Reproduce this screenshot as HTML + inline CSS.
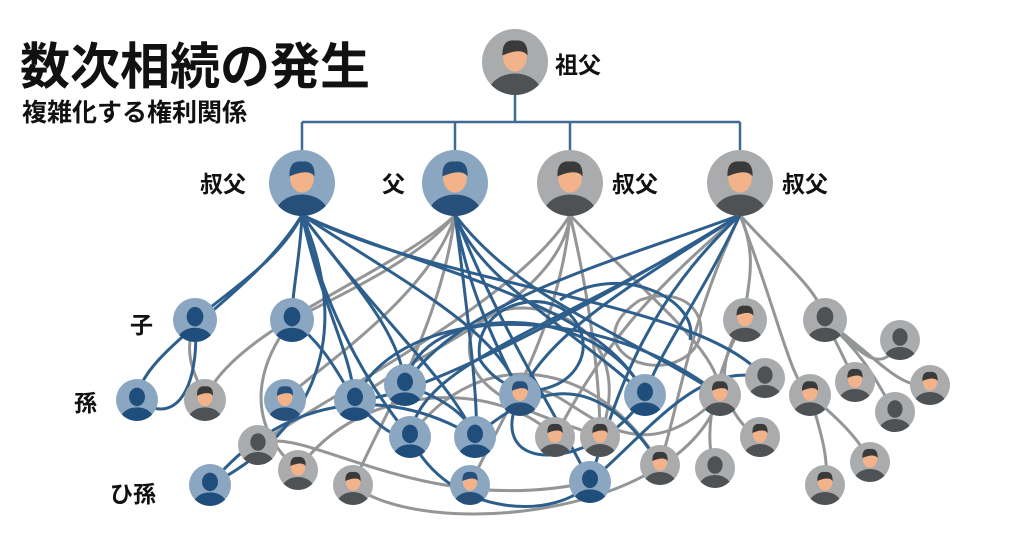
<!DOCTYPE html>
<html><head><meta charset="utf-8"><style>
body{margin:0;background:#fff;width:1024px;height:559px;overflow:hidden;font-family:"Liberation Sans","Noto Sans CJK JP",sans-serif}
svg{position:absolute;left:0;top:0}
.t{font-family:"Liberation Sans","Noto Sans CJK JP",sans-serif;font-weight:bold;fill:#111}
</style></head><body>
<svg width="1024" height="559" viewBox="0 0 1024 559">
<defs>
<clipPath id="c"><circle r="1"/></clipPath>
<symbol id="pb" viewBox="-1 -1 2 2" overflow="visible">
<circle r="1" fill="#8aa6c1"/><g clip-path="url(#c)"><ellipse cx="0" cy="0.95" rx="0.8" ry="0.6" fill="#1f4d7c"/><ellipse cx="0" cy="-0.15" rx="0.38" ry="0.44" fill="#1f4d7c"/></g></symbol>
<symbol id="pg" viewBox="-1 -1 2 2" overflow="visible">
<circle r="1" fill="#a9abad"/><g clip-path="url(#c)"><ellipse cx="0" cy="0.95" rx="0.8" ry="0.6" fill="#4f5254"/><ellipse cx="0" cy="-0.15" rx="0.38" ry="0.44" fill="#4f5254"/></g></symbol>
<symbol id="fb" viewBox="-1 -1 2 2" overflow="visible">
<circle r="1" fill="#8aa6c1"/><g clip-path="url(#c)"><ellipse cx="0" cy="0.95" rx="0.8" ry="0.6" fill="#264f7a"/><ellipse cx="0" cy="-0.15" rx="0.36" ry="0.44" fill="#f2b38a"/><path d="M-0.38,-0.2 Q-0.4,-0.7 0,-0.65 Q0.4,-0.7 0.38,-0.2 Q0.2,-0.45 -0.38,-0.2Z" fill="#264f7a"/></g></symbol>
<symbol id="fg" viewBox="-1 -1 2 2" overflow="visible">
<circle r="1" fill="#a9abad"/><g clip-path="url(#c)"><ellipse cx="0" cy="0.95" rx="0.8" ry="0.6" fill="#4f5254"/><ellipse cx="0" cy="-0.15" rx="0.36" ry="0.44" fill="#f2b38a"/><path d="M-0.38,-0.2 Q-0.4,-0.7 0,-0.65 Q0.4,-0.7 0.38,-0.2 Q0.2,-0.45 -0.38,-0.2Z" fill="#3a3a3a"/></g></symbol>
</defs>
<text x="20" y="84" class="t" font-size="50">数次相続の発生</text>
<text x="22" y="121" class="t" font-size="25">複雑化する権利関係</text>
<text x="555" y="73" class="t" font-size="23">祖父</text>
<text x="200" y="192" class="t" font-size="23">叔父</text>
<text x="382" y="192" class="t" font-size="23">父</text>
<text x="612" y="192" class="t" font-size="23">叔父</text>
<text x="782" y="192" class="t" font-size="23">叔父</text>
<text x="130" y="333" class="t" font-size="23">子</text>
<text x="74" y="411" class="t" font-size="23">孫</text>
<text x="110" y="502" class="t" font-size="23">ひ孫</text>
<g fill="none" stroke="#3f6a93" stroke-width="2.5">
<path d="M515,95 V122 M302,122 H740 M302,122 V150 M455,122 V150 M570,122 V150 M740,122 V150"/>
</g>
<g fill="none" stroke="#939597" stroke-width="3">
<path d="M455,215 C420,260 330,300 292,320"/>
<path d="M455,215 C400,270 230,330 205,400"/>
<path d="M455,215 C430,300 300,380 285,400"/>
<path d="M455,215 C440,330 380,420 353,485"/>
<path d="M570,215 C560,300 420,350 355,400"/>
<path d="M570,215 C590,300 600,380 600,437"/>
<path d="M570,215 C520,300 320,400 258,445"/>
<path d="M570,215 C650,300 720,350 720,395"/>
<path d="M570,215 C560,330 500,420 470,485"/>
<path d="M740,215 C760,260 745,290 745,320"/>
<path d="M740,215 C780,260 820,290 825,320"/>
<path d="M740,215 C650,290 600,350 555,437"/>
<path d="M740,215 C690,320 680,400 660,465"/>
<path d="M740,215 C780,320 790,380 810,395"/>
<path d="M745,320 C700,380 740,430 760,437"/>
<path d="M825,320 C860,350 880,380 900,340"/>
<path d="M825,320 C840,350 850,370 855,382"/>
<path d="M825,320 C880,360 900,390 930,385"/>
<path d="M825,320 C870,360 880,390 895,412"/>
<path d="M810,395 C820,430 830,460 825,485"/>
<path d="M810,395 C840,420 860,440 870,462"/>
<path d="M745,320 C720,360 700,430 715,468"/>
<path d="M292,320 C260,360 240,420 298,470"/>
<path d="M195,320 C180,360 200,380 205,400"/>
<path d="M520,395 C560,360 620,500 720,395"/>
<path d="M660,465 C600,360 480,340 410,437"/>
<path d="M258,445 C300,420 420,520 590,482"/>
<path d="M720,395 C680,520 420,540 353,485"/>
<path d="M298,470 C360,380 500,380 555,437"/>
<path d="M600,437 C650,300 480,280 470,340 C460,400 560,420 600,437"/>
<path d="M640,300 C700,280 720,340 680,360 C640,380 580,340 640,300"/>
</g>
<g fill="none" stroke="#2e5f8c" stroke-width="3">
<path d="M302,215 C280,260 230,290 195,320"/>
<path d="M302,215 C300,260 292,290 292,320"/>
<path d="M302,215 C250,300 140,350 137,400"/>
<path d="M302,215 C320,300 350,350 355,400"/>
<path d="M302,215 C350,280 400,330 405,385"/>
<path d="M302,215 C400,280 500,330 520,395"/>
<path d="M302,215 C420,270 600,300 645,395"/>
<path d="M302,215 C330,330 380,400 410,437"/>
<path d="M302,215 C380,320 450,380 475,437"/>
<path d="M302,215 C450,290 700,300 765,378"/>
<path d="M302,215 C360,350 300,440 210,485"/>
<path d="M455,215 C480,280 560,320 645,395"/>
<path d="M455,215 C470,300 500,350 520,395"/>
<path d="M455,215 C520,300 620,330 720,395"/>
<path d="M455,215 C500,330 560,420 590,482"/>
<path d="M455,215 C470,330 480,420 475,437"/>
<path d="M740,215 C620,260 460,300 405,385"/>
<path d="M740,215 C640,280 550,330 520,395"/>
<path d="M740,215 C600,300 420,400 355,400"/>
<path d="M740,215 C700,300 660,350 645,395"/>
<path d="M740,215 C560,330 420,360 410,437"/>
<path d="M740,215 C650,300 620,380 590,482"/>
<path d="M195,320 C200,380 180,430 137,400"/>
<path d="M292,320 C330,350 340,380 355,400"/>
<path d="M355,400 C380,430 400,440 410,437"/>
<path d="M405,385 C450,400 470,420 475,437"/>
<path d="M645,395 C600,300 420,300 405,385"/>
<path d="M520,395 C480,480 600,470 645,395"/>
<path d="M355,400 C400,300 600,300 720,395"/>
<path d="M410,437 C450,520 560,520 590,482"/>
<path d="M210,485 C280,400 380,380 475,437"/>
<path d="M590,482 C650,430 700,360 765,378"/>
<path d="M475,437 C540,380 600,370 660,465"/>
<path d="M480,360 C470,300 560,280 580,330 C600,380 520,420 480,360"/>
<path d="M560,300 C620,260 700,300 690,340"/>
</g>
<use href="#fg" x="482" y="29" width="66" height="66"/>
<use href="#fb" x="269" y="150" width="66" height="66"/>
<use href="#fb" x="422" y="150" width="66" height="66"/>
<use href="#fg" x="537" y="150" width="66" height="66"/>
<use href="#fg" x="707" y="150" width="66" height="66"/>
<use href="#pb" x="173" y="298" width="44" height="44"/>
<use href="#pb" x="270" y="298" width="44" height="44"/>
<use href="#fg" x="723" y="298" width="44" height="44"/>
<use href="#pg" x="803" y="298" width="44" height="44"/>
<use href="#pg" x="880" y="320" width="40" height="40"/>
<use href="#pb" x="116" y="379" width="42" height="42"/>
<use href="#fg" x="184" y="379" width="42" height="42"/>
<use href="#fb" x="264" y="379" width="42" height="42"/>
<use href="#pb" x="334" y="379" width="42" height="42"/>
<use href="#pb" x="384" y="364" width="42" height="42"/>
<use href="#fb" x="499" y="374" width="42" height="42"/>
<use href="#pb" x="624" y="374" width="42" height="42"/>
<use href="#fg" x="699" y="374" width="42" height="42"/>
<use href="#pg" x="745" y="358" width="40" height="40"/>
<use href="#fg" x="789" y="374" width="42" height="42"/>
<use href="#fg" x="835" y="362" width="40" height="40"/>
<use href="#fg" x="910" y="365" width="40" height="40"/>
<use href="#pg" x="875" y="392" width="40" height="40"/>
<use href="#pg" x="238" y="425" width="40" height="40"/>
<use href="#pb" x="389" y="416" width="42" height="42"/>
<use href="#pb" x="454" y="416" width="42" height="42"/>
<use href="#fg" x="535" y="417" width="40" height="40"/>
<use href="#fg" x="580" y="417" width="40" height="40"/>
<use href="#fg" x="740" y="417" width="40" height="40"/>
<use href="#pb" x="189" y="464" width="42" height="42"/>
<use href="#fg" x="278" y="450" width="40" height="40"/>
<use href="#fg" x="333" y="465" width="40" height="40"/>
<use href="#fb" x="450" y="465" width="40" height="40"/>
<use href="#pb" x="569" y="461" width="42" height="42"/>
<use href="#fg" x="640" y="445" width="40" height="40"/>
<use href="#pg" x="695" y="448" width="40" height="40"/>
<use href="#fg" x="805" y="465" width="40" height="40"/>
<use href="#fg" x="850" y="442" width="40" height="40"/>
</svg>
</body></html>
